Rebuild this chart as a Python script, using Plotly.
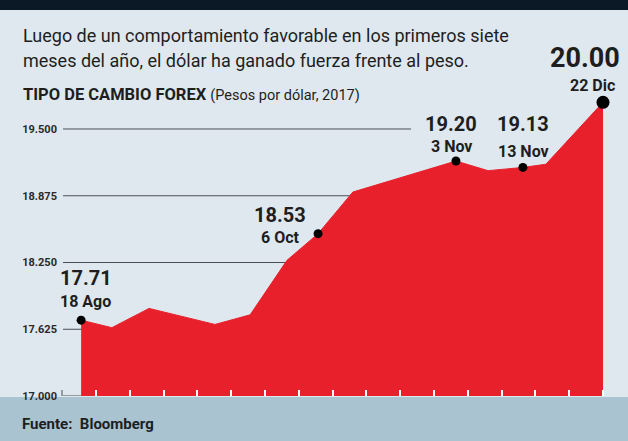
import plotly.graph_objects as go

# ---------------- data ----------------
x_pos = [-0.44, 0.47, 1.57, 3.52, 4.56, 5.65, 6.57, 7.60, 10.65, 11.60, 12.63, 13.31, 15.0]
values = [17.71, 17.64, 17.82, 17.67, 17.76, 18.27, 18.52, 18.91, 19.20, 19.11, 19.14, 19.17, 19.75]
hl_idx = [0, 6, 8, 10, 12]
hl_values_txt = ["17.71", "18.53", "19.20", "19.13", "20.00"]
hl_dates = ["18 Ago", "6 Oct", "3 Nov", "13 Nov", "22 Dic"]
y_ticks = [17.0, 17.625, 18.25, 18.875, 19.5]
y_tick_text = ["17.000", "17.625", "18.250", "18.875", "19.500"]
x_ticks = list(range(16))

title_l1 = "Luego de un comportamiento favorable en los primeros siete"
title_l2 = "meses del año, el dólar ha ganado fuerza frente al peso."
subtitle_b = "TIPO DE CAMBIO FOREX"
subtitle_r = "(Pesos por dólar, 2017)"
source = "Fuente:  Bloomberg"

# ---------------- layout helpers ----------------
W, H = 628, 441
ML, MR, MT, MB = 63, 18, 60, 45
PW, PH = W - ML - MR, H - MT - MB
X_RANGE = [-0.976, 15.207]
Y_RANGE = [17.0, 20.146]

def px_x(px):
    return (px - ML) / PW

def px_y(py):
    return (H - MB - py) / PH

FONT = "Roboto, Liberation Sans, Arial, sans-serif"
BG = "#dfe8ef"
RED = "#e8202b"
TXT = "#1e1e1e"

fig = go.Figure()

fig.add_trace(go.Scatter(
    x=x_pos, y=values, mode="lines", fill="tozeroy",
    line=dict(color=RED, width=1), fillcolor=RED, hoverinfo="skip",
    showlegend=False,
))

fig.add_trace(go.Scatter(
    x=[x_pos[i] for i in hl_idx], y=[values[i] for i in hl_idx],
    mode="markers",
    marker=dict(color="#000000", opacity=1, size=[9, 9, 9, 9, 13], line=dict(width=0)),
    showlegend=False, hoverinfo="skip",
))

shapes = []
# top dark band and footer band
shapes.append(dict(type="rect", xref="paper", yref="paper", x0=px_x(0), x1=px_x(W),
                   y0=px_y(0), y1=px_y(10), fillcolor="#0b1826", line=dict(width=0), layer="below"))
shapes.append(dict(type="rect", xref="paper", yref="paper", x0=px_x(0), x1=px_x(W),
                   y0=px_y(397), y1=px_y(H), fillcolor="#a9c3d1", line=dict(width=0), layer="below"))
# gridlines
for yv in y_ticks[1:]:
    x_end = 9.32 if yv == 19.5 else x_pos[-1]
    shapes.append(dict(type="line", xref="x", yref="y", x0=X_RANGE[0], x1=x_end,
                       y0=yv, y1=yv, line=dict(color="#4a4f55", width=1), layer="below"))
# baseline to the left of the area and small tick
shapes.append(dict(type="line", xref="x", yref="y", x0=X_RANGE[0], x1=x_pos[0],
                   y0=17.0, y1=17.0, line=dict(color="#4a4f55", width=1), layer="below"))
shapes.append(dict(type="line", xref="paper", yref="paper", x0=px_x(62), x1=px_x(62),
                   y0=px_y(396), y1=px_y(390), line=dict(color="#4a4f55", width=1), layer="below"))

annotations = []
val_shift = [(5, 42), (-38, 19), (-5, 37), (0, 43), (-18, 44)]
date_shift = [(4, 19), (-38, -4), (-4, 15), (1, 16), (-11, 17)]
val_size = [20, 20, 20, 20, 27]
date_size = [16, 16, 16, 16, 16]
for k, i in enumerate(hl_idx):
    annotations.append(dict(
        x=x_pos[i], y=values[i], xref="x", yref="y", text="<b>%s</b>" % hl_values_txt[k],
        showarrow=False, xshift=val_shift[k][0], yshift=val_shift[k][1],
        font=dict(family=FONT, size=val_size[k], color=TXT)))
    annotations.append(dict(
        x=x_pos[i], y=values[i], xref="x", yref="y", text="<b>%s</b>" % hl_dates[k],
        showarrow=False, xshift=date_shift[k][0], yshift=date_shift[k][1],
        font=dict(family=FONT, size=date_size[k], color=TXT)))

annotations.append(dict(x=px_x(21), y=px_y(35), xref="paper", yref="paper", xanchor="left",
                        yanchor="middle", text=title_l1, showarrow=False,
                        font=dict(family=FONT, size=18, color=TXT)))
annotations.append(dict(x=px_x(21), y=px_y(60), xref="paper", yref="paper", xanchor="left",
                        yanchor="middle", text=title_l2, showarrow=False,
                        font=dict(family=FONT, size=18, color=TXT)))
annotations.append(dict(x=px_x(21), y=px_y(95), xref="paper", yref="paper", xanchor="left",
                        yanchor="middle",
                        text="<b>%s</b> <span style='font-size:14.5px'>%s</span>" % (subtitle_b, subtitle_r),
                        showarrow=False, font=dict(family=FONT, size=16.5, color=TXT)))
annotations.append(dict(x=px_x(20), y=px_y(424), xref="paper", yref="paper", xanchor="left",
                        yanchor="middle", text="<b>%s</b>" % source, showarrow=False,
                        font=dict(family=FONT, size=15, color=TXT)))

fig.update_layout(
    width=W, height=H,
    margin=dict(l=ML, r=MR, t=MT, b=MB, pad=0),
    paper_bgcolor=BG, plot_bgcolor=BG,
    shapes=shapes, annotations=annotations,
    showlegend=False,
    xaxis=dict(range=X_RANGE, showgrid=False, zeroline=False, showline=False,
               tickvals=x_ticks, ticks="inside", ticklen=6, tickwidth=2, tickcolor="white",
               showticklabels=False, fixedrange=True),
    yaxis=dict(range=Y_RANGE, showgrid=False, zeroline=False, showline=False,
               tickvals=y_ticks, ticktext=["<b>%s</b>" % t for t in y_tick_text],
               ticks="", ticklabelstandoff=5,
               tickfont=dict(family=FONT, size=11, color="#2a2a2a"), fixedrange=True),
)

fig.write_html("out.html", config={"displayModeBar": False},
               post_script="document.body.style.margin='0';document.body.style.background='%s';" % BG)
